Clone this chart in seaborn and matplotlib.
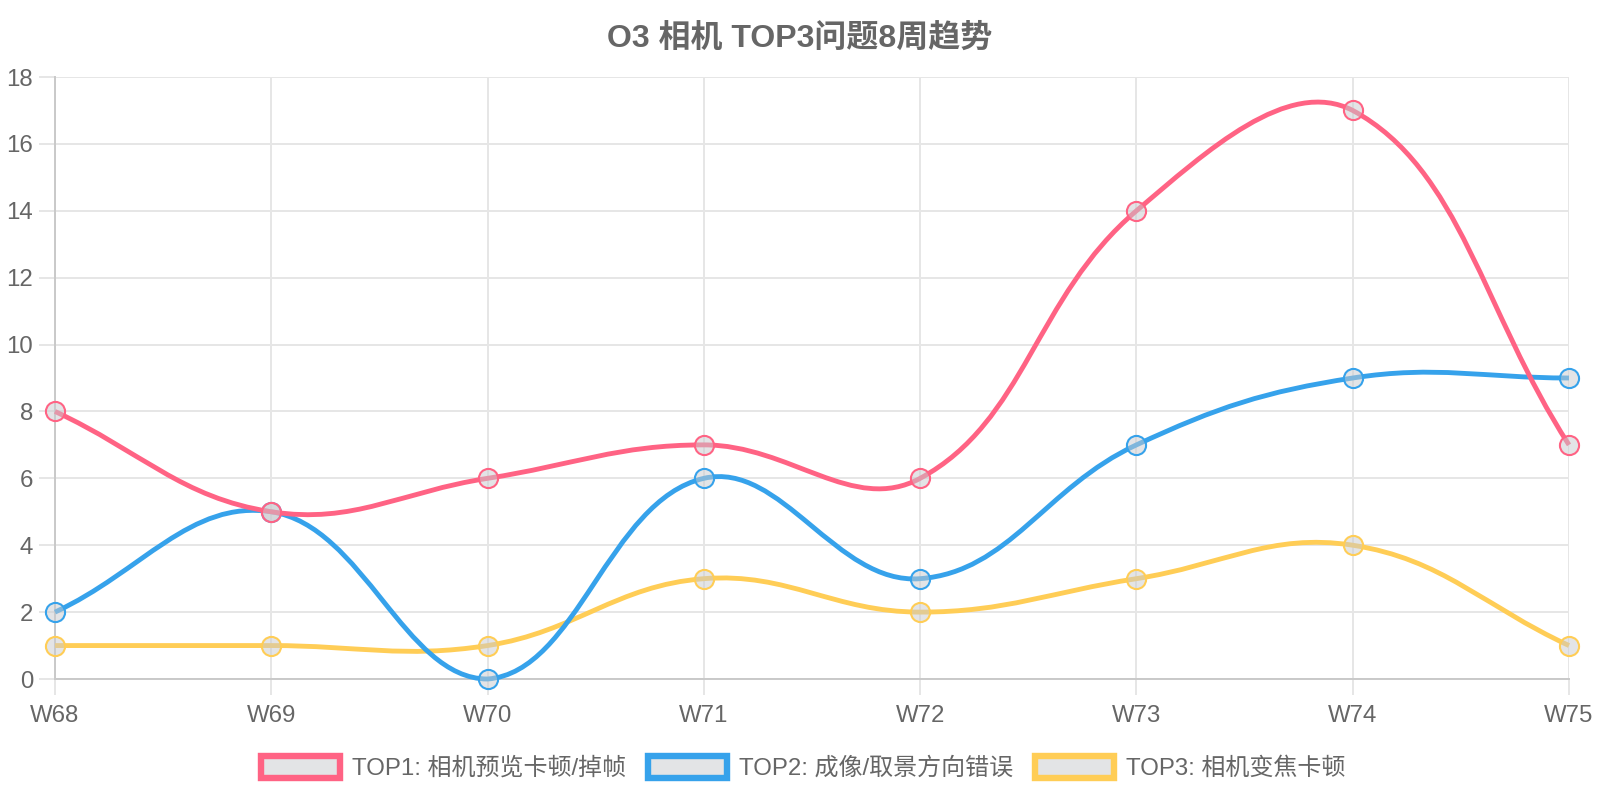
import numpy as np
import pandas as pd
import matplotlib

matplotlib.use("Agg")
import matplotlib.pyplot as plt
import seaborn as sns
from matplotlib.path import Path
from matplotlib.patches import PathPatch, Patch

weeks = ["W68", "W69", "W70", "W71", "W72", "W73", "W74", "W75"]
top1 = [8, 5, 6, 7, 6, 14, 17, 7]
top2 = [2, 5, 0, 6, 3, 7, 9, 9]
top3 = [1, 1, 1, 3, 2, 3, 4, 1]
series_names = ["TOP1: 相机预览卡顿/掉帧", "TOP2: 成像/取景方向错误", "TOP3: 相机变焦卡顿"]
series_colors = ["#ff6384", "#36a2eb", "#ffcd56"]
title = "O3 相机 TOP3问题8周趋势"

POINT_FILL = (201 / 255, 203 / 255, 207 / 255, 0.5)
GRID = "#e6e6e6"
AXIS = "#c9c9c9"
TEXT = "#666666"


def spline_path(ax, xs, ys, tension=0.4):
    # same bezier rule Chart.js uses, worked out in pixel space
    pts = ax.transData.transform(np.column_stack([xs, ys]))
    x0, y0, x1, y1 = ax.bbox.extents
    n = len(pts)
    cp_prev, cp_next = [], []
    for i in range(n):
        prev = pts[max(i - 1, 0)]
        cur = pts[i]
        nxt = pts[min(i + 1, n - 1)]
        d01 = np.hypot(*(cur - prev))
        d12 = np.hypot(*(nxt - cur))
        tot = d01 + d12
        s01 = d01 / tot if tot else 0
        s12 = d12 / tot if tot else 0
        a = cur - tension * s01 * (nxt - prev)
        b = cur + tension * s12 * (nxt - prev)
        a = np.array([np.clip(a[0], x0, x1), np.clip(a[1], y0, y1)])
        b = np.array([np.clip(b[0], x0, x1), np.clip(b[1], y0, y1)])
        cp_prev.append(a)
        cp_next.append(b)
    verts = [pts[0]]
    codes = [Path.MOVETO]
    for i in range(n - 1):
        verts += [cp_next[i], cp_prev[i + 1], pts[i + 1]]
        codes += [Path.CURVE4] * 3
    verts = ax.transData.inverted().transform(np.array(verts))
    return Path(verts, codes)


sns.set_theme(style="white")
plt.rcParams["font.family"] = ["Liberation Sans", "Noto Sans CJK SC"]

fig = plt.figure(figsize=(16, 8), dpi=100)
ax = fig.add_axes([55 / 1600, 121 / 800, 1514 / 1600, 602 / 800])
ax.set_xlim(0, len(weeks) - 1)
ax.set_ylim(0, 18)

xpos = np.arange(len(weeks))
df = pd.DataFrame({"x": np.tile(xpos, 3),
                   "value": top1 + top2 + top3,
                   "series": np.repeat(series_names, len(weeks))})

# dataset 0 is drawn on top, as in the source chart
for k in range(2, -1, -1):
    name = series_names[k]
    sub = df[df["series"] == name]
    path = spline_path(ax, sub["x"].values, sub["value"].values)
    ax.add_patch(PathPatch(path, facecolor="none", edgecolor=series_colors[k],
                           lw=3.5, capstyle="butt", joinstyle="round",
                           zorder=3 + (2 - k), clip_on=False))
    sns.scatterplot(data=sub, x="x", y="value", ax=ax, s=190,
                    color=POINT_FILL, edgecolor=series_colors[k], linewidth=1.5,
                    zorder=3.5 + (2 - k), clip_on=False, legend=False)

ax.set_xticks(xpos)
ax.set_xticklabels(weeks)
ax.set_yticks(range(0, 19, 2))
ax.grid(True, color=GRID, lw=1.4)
ax.set_axisbelow(True)
for side in ["top", "right"]:
    ax.spines[side].set_visible(False)
for side in ["left", "bottom"]:
    ax.spines[side].set_color(AXIS)
    ax.spines[side].set_linewidth(1.4)
ax.tick_params(axis="y", length=11.5, width=1.4, color=GRID, pad=4.3,
               labelsize=17.3, labelcolor=TEXT, left=True)
ax.tick_params(axis="x", length=11.5, width=1.4, color=GRID, pad=7,
               labelsize=17.3, labelcolor=TEXT, bottom=True)
ax.set_xlabel("")
ax.set_ylabel("")

fig.text(0.5, 1 - 39 / 800, title, ha="center", va="center",
         fontsize=23, fontweight="bold", color=TEXT)

handles = [Patch(facecolor=POINT_FILL, edgecolor=c, lw=4.6) for c in series_colors]
leg = fig.legend(handles, series_names, loc="center", bbox_to_anchor=(0.502, 0.04),
                 ncol=3, frameon=False, fontsize=17.3, handlelength=3.3,
                 handleheight=1.0, handletextpad=0.5, columnspacing=0.9,
                 borderpad=0)
for t in leg.get_texts():
    t.set_color(TEXT)

fig.savefig("out.png", dpi=100)
plt.close(fig)
